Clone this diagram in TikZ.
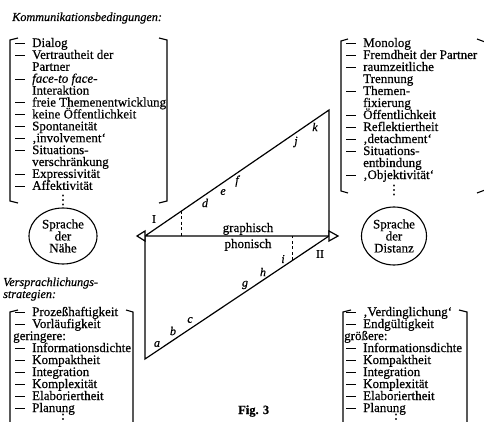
\documentclass[tikz,border=0pt]{standalone}
\usepackage{fontspec}
\setmainfont{Liberation Serif}[FakeBold=0.5]
\usetikzlibrary{shapes.geometric,calc}
\newcommand\dsh{\rule[3.1pt]{9.5pt}{1pt}}
\newcommand\lst{\fontsize{13}{12}\selectfont}
\newcommand\vdts{\vbox{\baselineskip4.5pt\lineskiplimit0pt\hbox{.}\hbox{.}\hbox{.}}}
\begin{document}
\begin{tikzpicture}[x=1pt,y=-1pt,
  itm/.style={anchor=base west,inner sep=0pt,font=\lst,text height=8pt,text depth=2pt},
  brk/.style={line width=1.1pt},
  lbl/.style={inner sep=0pt,font=\fontsize{12}{12}\selectfont\itshape},
  num/.style={inner sep=0pt,font=\fontsize{12}{12}\selectfont},
  ln/.style={line width=1.2pt,line join=miter},
  dshline/.style={line width=1pt,dash pattern=on 3pt off 2.5pt},
  circ/.style={draw,ellipse,line width=1.1pt,inner sep=0pt,align=center,font=\lst},
  head/.style={anchor=base west,inner sep=0pt,font=\fontsize{12.2}{12}\selectfont\itshape,text height=8pt,text depth=2pt}]
\clip (0,0) rectangle (484,422);

% headings
\node[head] (title) at (12,21) {Kommunikationsbedingungen:};
\node[head] (vs1) at (3,286) {Versprachlichungs-};
\node[head] (vs2) at (3,298) {strategien:};

% upper left list
\foreach \x/\t [count=\i from 0] in {15/Dialog,15/Vertrautheit der,32/Partner,15/{\textit{face-to face-}},32/Interaktion,15/freie Themenentwicklung,15/keine Öffentlichkeit,15/Spontaneität,15/‚involvement‘,15/Situations-,32/verschränkung,15/Expressivität,15/Affektivität}
  \node[itm] (ul\i) at (\x,47+11.9*\i) {\ifnum\x=15 \makebox[17pt][l]{\dsh}\fi\t};
\node[inner sep=0pt,font=\lst] (uldots) at (63,200) {\vdts};
\draw[brk] (18,38) -- (10,40) -- (10,201) -- (18,203);
\draw[brk] (159,38) -- (167,40) -- (167,201) -- (159,203);

% upper right list
\foreach \x/\t [count=\i from 0] in {15/Monolog,15/Fremdheit der Partner,15/raumzeitliche,32/Trennung,15/Themen-,32/fixierung,15/Öffentlichkeit,15/Reflektiertheit,15/‚detachment‘,15/Situations-,32/entbindung,15/‚Objektivität‘}
  \node[itm] (ur\i) at (\x+331,47+12*\i) {\ifnum\x=15 \makebox[17pt][l]{\dsh}\fi\t};
\node[inner sep=0pt,font=\lst] (urdots) at (394,190) {\vdts};
\draw[brk] (348,39) -- (341,41) -- (341,191) -- (348,193);
\draw[brk] (477,39) -- (485,42) -- (485,190) -- (477,193);

% lower left list
\foreach \x/\t [count=\i from 0] in {15/Prozeßhaftigkeit,15/Vorläufigkeit,13/geringere:,15/Informationsdichte,15/Kompaktheit,15/Integration,15/Komplexität,15/Elaboriertheit,15/Planung}
  \node[itm] (ll\i) at (\x,316+12*\i) {\ifnum\x=15 \makebox[17pt][l]{\dsh}\fi\t};
\node[inner sep=0pt,font=\lst] (lldots) at (63,419) {\vdts};
\draw[brk] (18,310) -- (10,312) -- (10,430);
\draw[brk] (126,310) -- (133,312) -- (133,430);

% lower right list
\foreach \x/\t [count=\i from 0] in {15/‚Verdinglichung‘,15/Endgültigkeit,13/größere:,15/Informationsdichte,15/Kompaktheit,15/Integration,15/Komplexität,15/Elaboriertheit,15/Planung}
  \node[itm] (lr\i) at (\x+331,316+12*\i) {\ifnum\x=15 \makebox[17pt][l]{\dsh}\fi\t};
\node[inner sep=0pt,font=\lst] (lrdots) at (396,419) {\vdts};
\draw[brk] (351,310) -- (343,312) -- (343,430);
\draw[brk] (459,310) -- (467,312) -- (467,430);

% circles
\node[circ,minimum width=68,minimum height=56] (nahe) at (63,236) {Sprache\\der\\Nähe};
\node[circ,minimum width=65,minimum height=58] (dist) at (394,236) {Sprache\\der\\Distanz};

% central diagram
\coordinate (L) at (145,236);
\coordinate (T) at (329,110);
\coordinate (R) at (329,236);
\coordinate (B) at (145,359);
\draw[ln] (L) -- (T) -- (R) -- cycle;
\draw[ln] (L) -- (B) -- (R);
\draw[ln,fill=white] (L) -- ++(0,-5) -- ++(-8,5) -- ++(8,5) -- cycle;
\draw[ln,fill=white] (R) -- ++(0,-5) -- ++(9,5) -- ++(-9,5) -- cycle;
\coordinate (D1) at ($(L)!0.201!(T)$);
\coordinate (D2) at ($(B)!0.804!(R)$);
\draw[dshline] (D1) -- (D1 |- L);
\draw[dshline] (D2) -- (D2 |- R);

\node[itm,anchor=base] (gr) at (248,232) {graphisch};
\node[itm,anchor=base] (ph) at (248,248) {phonisch};
\node[num] (I) at (154,219) {I};
\node[num] (II) at (320,254) {II};
\node[lbl] (la) at (157,344) {a};
\node[lbl] (lb) at (173,331) {b};
\node[lbl] (lc) at (190,320) {c};
\node[lbl] (ld) at (205,203) {d};
\node[lbl] (le) at (223,192) {e};
\node[lbl] (lf) at (237,181) {f};
\node[lbl] (lg) at (245,285) {g};
\node[lbl] (lh) at (263,272) {h};
\node[lbl] (li) at (283,259) {i};
\node[lbl] (lj) at (296,142) {j};
\node[lbl] (lk) at (315,127) {k};

\node[anchor=base west,inner sep=0pt,font=\fontsize{12.5}{12}\selectfont\bfseries] (fig) at (238,414) {Fig. 3};
\end{tikzpicture}
\end{document}
